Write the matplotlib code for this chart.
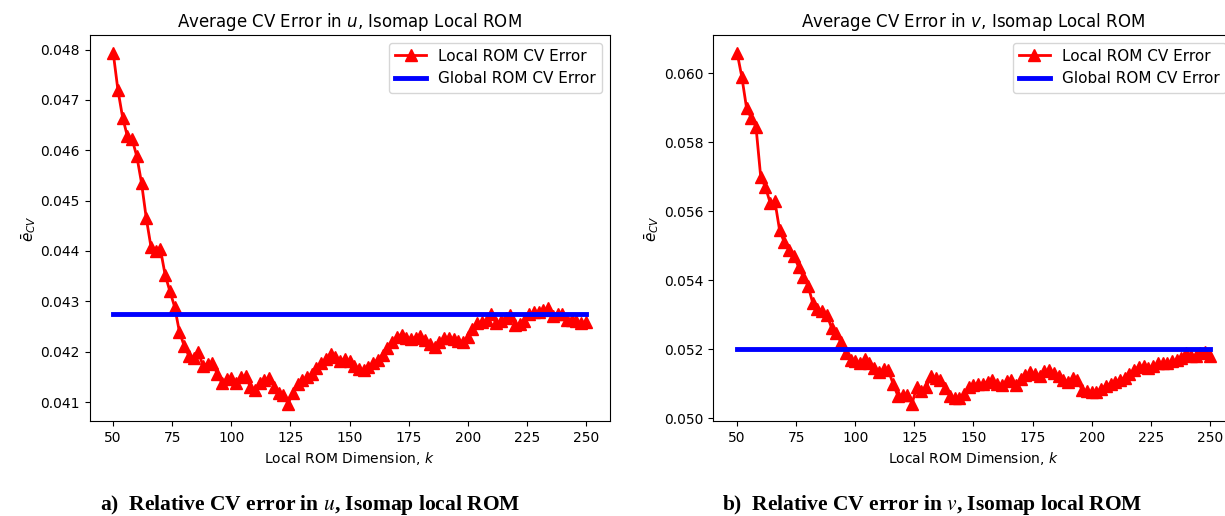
import numpy as np
import matplotlib
matplotlib.use('Agg')
import matplotlib.pyplot as plt

# local ROM dimension k (every second value)
k_dims = np.arange(50, 251, 2)

err_u_local = [
    0.04794, 0.04720, 0.04665, 0.04628, 0.04622, 0.04588, 0.04535, 0.04465, 0.04408, 0.04400,
    0.04403, 0.04352, 0.04320, 0.04289, 0.04240, 0.04212, 0.04192, 0.04188, 0.04200, 0.04172,
    0.04176, 0.04178, 0.04156, 0.04138, 0.04146, 0.04148, 0.04137, 0.04150, 0.04152, 0.04130,
    0.04124, 0.04138, 0.04143, 0.04148, 0.04130, 0.04118, 0.04113, 0.04097, 0.04118, 0.04135,
    0.04143, 0.04150, 0.04155, 0.04168, 0.04178, 0.04185, 0.04196, 0.04190, 0.04182, 0.04186,
    0.04182, 0.04172, 0.04166, 0.04163, 0.04170, 0.04178, 0.04184, 0.04194, 0.04208, 0.04220,
    0.04230, 0.04234, 0.04228, 0.04226, 0.04228, 0.04232, 0.04224, 0.04215, 0.04210, 0.04220,
    0.04228, 0.04228, 0.04226, 0.04222, 0.04220, 0.04229, 0.04245, 0.04256, 0.04259, 0.04262,
    0.04274, 0.04256, 0.04260, 0.04266, 0.04272, 0.04252, 0.04255, 0.04260, 0.04274, 0.04278,
    0.04279, 0.04282, 0.04286, 0.04270, 0.04274, 0.04275, 0.04262, 0.04262, 0.04260, 0.04256,
    0.04259,
]
err_u_global = 0.04274

err_v_local = [
    0.06060, 0.05990, 0.05900, 0.05870, 0.05845, 0.05700, 0.05670, 0.05625, 0.05629, 0.05545,
    0.05510, 0.05488, 0.05470, 0.05440, 0.05410, 0.05385, 0.05335, 0.05318, 0.05312, 0.05300,
    0.05262, 0.05246, 0.05220, 0.05190, 0.05170, 0.05165, 0.05159, 0.05172, 0.05160, 0.05145,
    0.05135, 0.05142, 0.05140, 0.05100, 0.05066, 0.05067, 0.05068, 0.05043, 0.05090, 0.05080,
    0.05090, 0.05122, 0.05118, 0.05110, 0.05088, 0.05066, 0.05058, 0.05060, 0.05070, 0.05090,
    0.05098, 0.05101, 0.05100, 0.05106, 0.05110, 0.05100, 0.05096, 0.05108, 0.05110, 0.05096,
    0.05115, 0.05126, 0.05133, 0.05128, 0.05122, 0.05136, 0.05140, 0.05130, 0.05122, 0.05112,
    0.05106, 0.05116, 0.05110, 0.05082, 0.05078, 0.05076, 0.05076, 0.05086, 0.05094, 0.05101,
    0.05106, 0.05112, 0.05118, 0.05128, 0.05140, 0.05150, 0.05152, 0.05145, 0.05152, 0.05159,
    0.05160, 0.05159, 0.05165, 0.05170, 0.05176, 0.05188, 0.05180, 0.05180, 0.05188, 0.05192,
    0.05180,
]
err_v_global = 0.05202

titles = ['Average CV Error in $u$, Isomap Local ROM',
          'Average CV Error in $v$, Isomap Local ROM']
captions = ['a)  Relative CV error in $u$, Isomap local ROM',
            'b)  Relative CV error in $v$, Isomap local ROM']


def draw_panel(ax, local_err, global_err, title):
    ax.plot(k_dims, local_err, color='red', marker='^', markersize=8,
            linewidth=2, label='Local ROM CV Error')
    ax.plot([k_dims[0], k_dims[-1]], [global_err, global_err], color='blue',
            linewidth=3.5, label='Global ROM CV Error')
    ax.set_title(title, fontsize=12)
    ax.set_xlabel('Local ROM Dimension, $k$')
    ax.set_ylabel(r'$\bar{e}_{CV}$', fontsize=11, labelpad=2)
    ax.set_xticks(np.arange(50, 251, 25))
    ax.legend(loc='upper right', fontsize=11)


fig = plt.figure(figsize=(12.25, 5.16), dpi=100)
ax1 = fig.add_axes([0.0731, 0.184, 0.4245, 0.748])
ax2 = fig.add_axes([0.5824, 0.184, 0.4245, 0.748])

draw_panel(ax1, err_u_local, err_u_global, titles[0])
draw_panel(ax2, err_v_local, err_v_global, titles[1])

fig.text(0.253, 0.012, captions[0], ha='center', va='baseline', fontsize=15.5,
         family='Liberation Serif', weight='bold', math_fontfamily='stix')
fig.text(0.761, 0.012, captions[1], ha='center', va='baseline', fontsize=15.5,
         family='Liberation Serif', weight='bold', math_fontfamily='stix')

fig.savefig('out.png', dpi=100)
